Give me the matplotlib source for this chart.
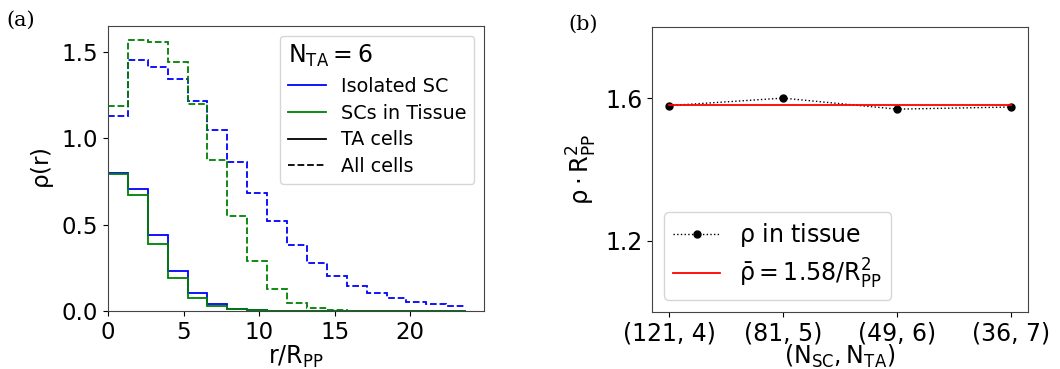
import matplotlib
matplotlib.use("Agg")
import matplotlib.pyplot as plt
import numpy as np

plt.rcParams['mathtext.default'] = 'regular'

# panel (a): radial density histograms, 18 bins
bin_width = 1.317
n_bins = 18
all_isolated = [1.128, 1.452, 1.413, 1.341, 1.215, 1.047, 0.862, 0.682, 0.521,
                0.382, 0.279, 0.202, 0.145, 0.105, 0.076, 0.054, 0.039, 0.029]
all_tissue = [1.186, 1.572, 1.560, 1.442, 1.196, 0.872, 0.550, 0.289, 0.128,
              0.047, 0.016, 0.006, 0.002, 0.0, 0.0, 0.0, 0.0, 0.0]
ta_isolated = [0.802, 0.709, 0.440, 0.234, 0.105, 0.041, 0.014, 0.006, 0.002,
               0.0, 0.0, 0.0, 0.0, 0.0, 0.0, 0.0, 0.0, 0.0]
ta_tissue = [0.791, 0.674, 0.388, 0.192, 0.076, 0.029, 0.010, 0.004, 0.0,
             0.0, 0.0, 0.0, 0.0, 0.0, 0.0, 0.0, 0.0, 0.0]

# panel (b)
configs = ['(121, 4)', '(81, 5)', '(49, 6)', '(36, 7)']
rho_tissue = [1.580, 1.601, 1.570, 1.576]

edges = np.arange(n_bins + 1) * bin_width

fig = plt.figure(figsize=(10.6, 3.69), dpi=100)
ax1 = fig.add_axes([0.1019, 0.1572, 0.3547, 0.7724])
ax2 = fig.add_axes([0.6151, 0.1545, 0.3547, 0.7715])

lw = 1.3
ax1.stairs(all_isolated, edges, baseline=None, color='blue', ls='--', lw=lw)
ax1.stairs(all_tissue, edges, baseline=None, color='green', ls='--', lw=lw)
ax1.stairs(ta_isolated, edges, baseline=None, color='blue', lw=lw)
ax1.stairs(ta_tissue, edges, baseline=None, color='green', lw=lw)

ax1.plot([], [], color='blue', lw=lw, label='Isolated SC')
ax1.plot([], [], color='green', lw=lw, label='SCs in Tissue')
ax1.plot([], [], color='black', lw=lw, label='TA cells')
ax1.plot([], [], color='black', ls='--', lw=lw, label='All cells')
leg = ax1.legend(title='$N_{TA} = 6$', fontsize=13.8, title_fontsize=17,
                 loc='upper right', alignment='left', handlelength=2.0,
                 labelspacing=0.4)

ax1.set_xlim(0, edges[-1] * 1.05)
ax1.set_ylim(0, max(all_tissue) * 1.05)
ax1.set_xticks([0, 5, 10, 15, 20])
ax1.set_yticks([0.0, 0.5, 1.0, 1.5])
ax1.tick_params(labelsize=16.5)
ax1.set_xlabel('$r/R_{PP}$', fontsize=17, labelpad=0)
ax1.set_ylabel(r'$\rho(r)$', fontsize=16.5)

x = np.arange(len(configs))
rho_mean = np.mean(rho_tissue)
ax2.plot(x, rho_tissue, color='black', ls=':', lw=1.0, marker='o', ms=5,
         label=r'$\rho$ in tissue')
ax2.plot(x, np.full(len(x), rho_mean), color='red', lw=1.3,
         label=r'$\bar{\rho} = 1.58/R_{PP}^2$')
ax2.set_ylim(1.0, 1.8)
ax2.set_yticks([1.2, 1.6])
ax2.set_xticks(x)
ax2.set_xticklabels(configs)
ax2.tick_params(axis='y', labelsize=17)
ax2.tick_params(axis='x', labelsize=17)
ax2.set_xlabel('$(N_{SC}, N_{TA})$', fontsize=17, labelpad=-2)
ax2.set_ylabel(r'$\rho \cdot R_{PP}^2$', fontsize=17.5)
ax2.legend(loc='lower left', fontsize=17, labelspacing=0.3)

for ax in (ax1, ax2):
    for sp in ax.spines.values():
        sp.set_color('#444444')

fig.text(0.006, 0.93, '(a)', family='DejaVu Serif', fontsize=15)
fig.text(0.536, 0.918, '(b)', family='DejaVu Serif', fontsize=15)

fig.savefig('out.png', dpi=100)
